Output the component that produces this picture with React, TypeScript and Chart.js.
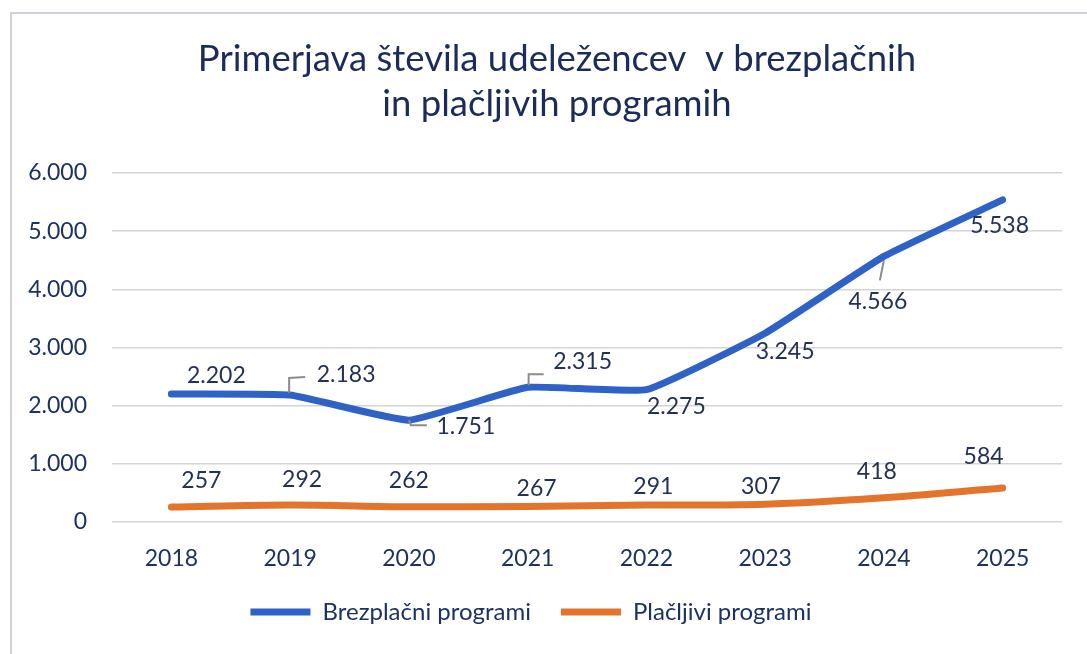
import React, { useEffect, useRef } from "react";
import { Chart, registerables } from "chart.js";

Chart.register(...registerables);

const years = ["2018", "2019", "2020", "2021", "2022", "2023", "2024", "2025"];
const freePrograms = [2202, 2183, 1751, 2315, 2275, 3245, 4566, 5538];
const paidPrograms = [257, 292, 262, 267, 291, 307, 418, 584];
const titleLines = ["Primerjava števila udeležencev  v brezplačnih", "in plačljivih programih"];
const seriesNames = ["Brezplačni programi", "Plačljivi programi"];

// label placement (style only): offsets from the point
const freeLabelOffsets = [[45, -18], [56, -20], [57, 6], [55, -26], [30, 17], [20, 18], [-6, 45], [-3, 26]];
const paidLabelOffsets = [[30, -26], [12, -25], [0, -26], [9, -18], [7, -18], [-4, -18], [-7, -26], [-19, -31]];
const freeLeaders: (number[][] | null)[] = [
  null,
  [[-1, -2], [-1, -17], [15, -18]],
  [[0, 0], [2, 5], [18, 5]],
  [[1, -2], [1, -13], [16, -13]],
  null,
  null,
  [[0, 4], [-4, 24]],
  null,
];

const FONT = "Lato, 'Open Sans', sans-serif";
const BLUE = "#2f62c6";
const ORANGE = "#e4742c";
const NAVY = "#1d3262";

const fmt = (v: number) => String(v).replace(/\B(?=(\d{3})+(?!\d))/g, ".");

const titlePlugin = {
  id: "twoLineTitle",
  afterDraw(chart: any) {
    const ctx = chart.ctx;
    ctx.save();
    ctx.font = `36.5px ${FONT}`;
    ctx.fillStyle = "#1c2c5a";
    ctx.textAlign = "center";
    ctx.textBaseline = "alphabetic";
    ctx.fillText(titleLines[0], 557, 71);
    ctx.fillText(titleLines[1], 557, 116);
    ctx.restore();
  },
};

const labelPlugin = {
  id: "valueLabels",
  afterDatasetsDraw(chart: any) {
    const ctx = chart.ctx;
    ctx.save();
    ctx.font = `23px ${FONT}`;
    ctx.fillStyle = "#233155";
    ctx.textAlign = "center";
    ctx.textBaseline = "middle";
    const sets = [
      { data: freePrograms, offs: freeLabelOffsets, leaders: freeLeaders },
      { data: paidPrograms, offs: paidLabelOffsets, leaders: null as any },
    ];
    sets.forEach((s, di) => {
      const meta = chart.getDatasetMeta(di);
      meta.data.forEach((pt: any, i: number) => {
        const [dx, dy] = s.offs[i];
        ctx.fillText(fmt(s.data[i]), pt.x + dx, pt.y + dy);
        const ld = s.leaders ? s.leaders[i] : null;
        if (ld) {
          ctx.save();
          ctx.strokeStyle = "#8c8c8c";
          ctx.lineWidth = 2;
          ctx.beginPath();
          ld.forEach(([lx, ly]: number[], k: number) => {
            if (k === 0) ctx.moveTo(pt.x + lx, pt.y + ly);
            else ctx.lineTo(pt.x + lx, pt.y + ly);
          });
          ctx.stroke();
          ctx.restore();
        }
      });
    });
    ctx.restore();
  },
};

export default function App() {
  const ref = useRef<HTMLCanvasElement>(null);
  useEffect(() => {
    if (!ref.current) return;
    const chart = new Chart(ref.current, {
      type: "line",
      data: {
        labels: years,
        datasets: [
          {
            label: seriesNames[0],
            data: freePrograms,
            borderColor: BLUE,
            backgroundColor: BLUE,
            borderWidth: 7,
            pointRadius: 0,
            tension: 0.12,
            borderCapStyle: "round",
            borderJoinStyle: "round",
          },
          {
            label: seriesNames[1],
            data: paidPrograms,
            borderColor: ORANGE,
            backgroundColor: ORANGE,
            borderWidth: 7,
            pointRadius: 0,
            tension: 0.35,
            borderCapStyle: "round",
            borderJoinStyle: "round",
          },
        ],
      },
      options: {
        responsive: false,
        animation: false,
        layout: { padding: { left: 0, right: 25, top: 173, bottom: 20 } },
        plugins: {
          tooltip: { enabled: false },
          title: { display: false },
          legend: {
            position: "bottom",
            labels: {
              usePointStyle: true,
              pointStyle: "line",
              pointStyleWidth: 60,
              color: NAVY,
              font: { family: FONT, size: 24 },
              padding: 30,
            },
          },
        },
        scales: {
          x: {
            offset: true,
            grid: { display: false },
            border: { display: false },
            ticks: { color: NAVY, font: { family: FONT, size: 23 }, padding: 15 },
            afterFit: (s: any) => {
              s.height = 48;
            },
          },
          y: {
            min: 0,
            max: 6000,
            grid: { color: "#d4d4d4", lineWidth: 1.5, drawTicks: false },
            border: { display: false },
            ticks: {
              stepSize: 1000,
              padding: 25,
              color: NAVY,
              font: { family: FONT, size: 23 },
              callback: (v: any) => fmt(Number(v)),
            },
            afterFit: (s: any) => {
              s.width = 112;
            },
          },
        },
      },
      plugins: [labelPlugin, titlePlugin],
    });
    return () => chart.destroy();
  }, []);
  return (
    <div style={{ position: "absolute", left: 0, top: 0, width: 1087, height: 654, overflow: "hidden", background: "#fff" }}>
      <div style={{ position: "absolute", left: 10, top: 12, width: 1100, height: 700, border: "2px solid #cfd0d8", boxSizing: "border-box" }} />
      <canvas ref={ref} width={1087} height={654} style={{ position: "absolute", left: 0, top: 0 }} />
    </div>
  );
}
